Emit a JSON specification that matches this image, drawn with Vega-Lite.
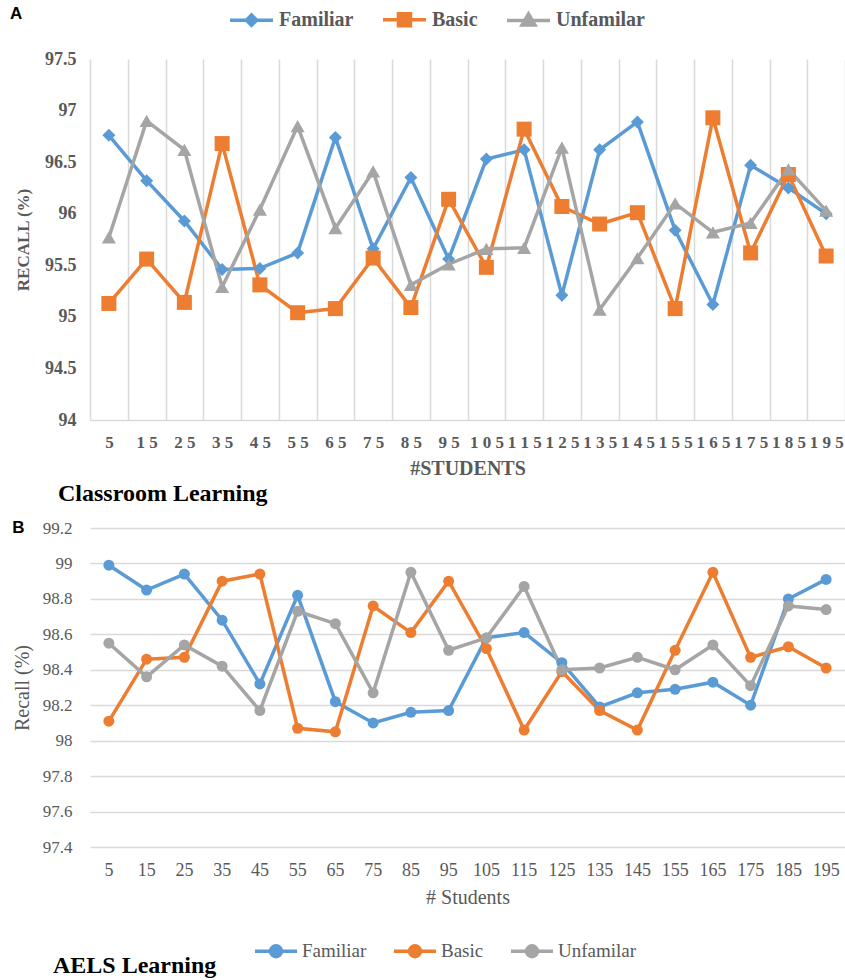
{
  "$schema": "https://vega.github.io/schema/vega-lite/v6.json",
  "padding": {"left": 10, "top": -4, "right": 0, "bottom": 0},
  "spacing": 13,
  "config": {"view": {"stroke": null}},
  "title": {"text": "AELS Learning", "orient": "bottom", "anchor": "start", "frame": "bounds", "font": "Liberation Serif", "fontSize": 24, "fontWeight": "bold", "color": "#000000", "dx": 43, "offset": 0, "dy": -10},
  "resolve": {"scale": {"color": "independent"}, "legend": {"color": "independent"}},
  "datasets": {
    "a": [
      {"n": 5, "s": "Familiar", "v": 96.76}, {"n": 15, "s": "Familiar", "v": 96.32}, {"n": 25, "s": "Familiar", "v": 95.93}, {"n": 35, "s": "Familiar", "v": 95.46}, {"n": 45, "s": "Familiar", "v": 95.47},
      {"n": 55, "s": "Familiar", "v": 95.62}, {"n": 65, "s": "Familiar", "v": 96.74}, {"n": 75, "s": "Familiar", "v": 95.66}, {"n": 85, "s": "Familiar", "v": 96.35}, {"n": 95, "s": "Familiar", "v": 95.56},
      {"n": 105, "s": "Familiar", "v": 96.53}, {"n": 115, "s": "Familiar", "v": 96.62}, {"n": 125, "s": "Familiar", "v": 95.21}, {"n": 135, "s": "Familiar", "v": 96.62}, {"n": 145, "s": "Familiar", "v": 96.89},
      {"n": 155, "s": "Familiar", "v": 95.84}, {"n": 165, "s": "Familiar", "v": 95.12}, {"n": 175, "s": "Familiar", "v": 96.47}, {"n": 185, "s": "Familiar", "v": 96.25}, {"n": 195, "s": "Familiar", "v": 96.0},
      {"n": 5, "s": "Basic", "v": 95.13}, {"n": 15, "s": "Basic", "v": 95.56}, {"n": 25, "s": "Basic", "v": 95.14}, {"n": 35, "s": "Basic", "v": 96.68}, {"n": 45, "s": "Basic", "v": 95.31},
      {"n": 55, "s": "Basic", "v": 95.04}, {"n": 65, "s": "Basic", "v": 95.08}, {"n": 75, "s": "Basic", "v": 95.57}, {"n": 85, "s": "Basic", "v": 95.09}, {"n": 95, "s": "Basic", "v": 96.14},
      {"n": 105, "s": "Basic", "v": 95.48}, {"n": 115, "s": "Basic", "v": 96.82}, {"n": 125, "s": "Basic", "v": 96.07}, {"n": 135, "s": "Basic", "v": 95.9}, {"n": 145, "s": "Basic", "v": 96.01},
      {"n": 155, "s": "Basic", "v": 95.08}, {"n": 165, "s": "Basic", "v": 96.93}, {"n": 175, "s": "Basic", "v": 95.62}, {"n": 185, "s": "Basic", "v": 96.38}, {"n": 195, "s": "Basic", "v": 95.59},
      {"n": 5, "s": "Unfamilar", "v": 95.77}, {"n": 15, "s": "Unfamilar", "v": 96.9}, {"n": 25, "s": "Unfamilar", "v": 96.62}, {"n": 35, "s": "Unfamilar", "v": 95.29}, {"n": 45, "s": "Unfamilar", "v": 96.04},
      {"n": 55, "s": "Unfamilar", "v": 96.85}, {"n": 65, "s": "Unfamilar", "v": 95.86}, {"n": 75, "s": "Unfamilar", "v": 96.41}, {"n": 85, "s": "Unfamilar", "v": 95.31}, {"n": 95, "s": "Unfamilar", "v": 95.51},
      {"n": 105, "s": "Unfamilar", "v": 95.66}, {"n": 115, "s": "Unfamilar", "v": 95.67}, {"n": 125, "s": "Unfamilar", "v": 96.64}, {"n": 135, "s": "Unfamilar", "v": 95.07}, {"n": 145, "s": "Unfamilar", "v": 95.57},
      {"n": 155, "s": "Unfamilar", "v": 96.1}, {"n": 165, "s": "Unfamilar", "v": 95.82}, {"n": 175, "s": "Unfamilar", "v": 95.91}, {"n": 185, "s": "Unfamilar", "v": 96.43}, {"n": 195, "s": "Unfamilar", "v": 96.03}
    ],
    "b": [
      {"n": 5, "s": "Familiar", "v": 98.99}, {"n": 15, "s": "Familiar", "v": 98.85}, {"n": 25, "s": "Familiar", "v": 98.94}, {"n": 35, "s": "Familiar", "v": 98.68}, {"n": 45, "s": "Familiar", "v": 98.32},
      {"n": 55, "s": "Familiar", "v": 98.82}, {"n": 65, "s": "Familiar", "v": 98.22}, {"n": 75, "s": "Familiar", "v": 98.1}, {"n": 85, "s": "Familiar", "v": 98.16}, {"n": 95, "s": "Familiar", "v": 98.17},
      {"n": 105, "s": "Familiar", "v": 98.58}, {"n": 115, "s": "Familiar", "v": 98.61}, {"n": 125, "s": "Familiar", "v": 98.44}, {"n": 135, "s": "Familiar", "v": 98.19}, {"n": 145, "s": "Familiar", "v": 98.27},
      {"n": 155, "s": "Familiar", "v": 98.29}, {"n": 165, "s": "Familiar", "v": 98.33}, {"n": 175, "s": "Familiar", "v": 98.2}, {"n": 185, "s": "Familiar", "v": 98.8}, {"n": 195, "s": "Familiar", "v": 98.91},
      {"n": 5, "s": "Basic", "v": 98.11}, {"n": 15, "s": "Basic", "v": 98.46}, {"n": 25, "s": "Basic", "v": 98.47}, {"n": 35, "s": "Basic", "v": 98.9}, {"n": 45, "s": "Basic", "v": 98.94},
      {"n": 55, "s": "Basic", "v": 98.07}, {"n": 65, "s": "Basic", "v": 98.05}, {"n": 75, "s": "Basic", "v": 98.76}, {"n": 85, "s": "Basic", "v": 98.61}, {"n": 95, "s": "Basic", "v": 98.9},
      {"n": 105, "s": "Basic", "v": 98.52}, {"n": 115, "s": "Basic", "v": 98.06}, {"n": 125, "s": "Basic", "v": 98.39}, {"n": 135, "s": "Basic", "v": 98.17}, {"n": 145, "s": "Basic", "v": 98.06},
      {"n": 155, "s": "Basic", "v": 98.51}, {"n": 165, "s": "Basic", "v": 98.95}, {"n": 175, "s": "Basic", "v": 98.47}, {"n": 185, "s": "Basic", "v": 98.53}, {"n": 195, "s": "Basic", "v": 98.41},
      {"n": 5, "s": "Unfamilar", "v": 98.55}, {"n": 15, "s": "Unfamilar", "v": 98.36}, {"n": 25, "s": "Unfamilar", "v": 98.54}, {"n": 35, "s": "Unfamilar", "v": 98.42}, {"n": 45, "s": "Unfamilar", "v": 98.17},
      {"n": 55, "s": "Unfamilar", "v": 98.73}, {"n": 65, "s": "Unfamilar", "v": 98.66}, {"n": 75, "s": "Unfamilar", "v": 98.27}, {"n": 85, "s": "Unfamilar", "v": 98.95}, {"n": 95, "s": "Unfamilar", "v": 98.51},
      {"n": 105, "s": "Unfamilar", "v": 98.58}, {"n": 115, "s": "Unfamilar", "v": 98.87}, {"n": 125, "s": "Unfamilar", "v": 98.4}, {"n": 135, "s": "Unfamilar", "v": 98.41}, {"n": 145, "s": "Unfamilar", "v": 98.47},
      {"n": 155, "s": "Unfamilar", "v": 98.4}, {"n": 165, "s": "Unfamilar", "v": 98.54}, {"n": 175, "s": "Unfamilar", "v": 98.31}, {"n": 185, "s": "Unfamilar", "v": 98.76}, {"n": 195, "s": "Unfamilar", "v": 98.74}
    ]
  },
  "vconcat": [
    {
      "width": 755,
      "height": 361,
      "data": {"name": "a"},
      "title": {"text": "Classroom Learning", "orient": "bottom", "anchor": "start", "frame": "bounds", "font": "Liberation Serif", "fontSize": 24, "fontWeight": "bold", "color": "#000000", "dx": 48, "offset": 4},
      "encoding": {
        "x": {
          "field": "n", "type": "ordinal",
          "scale": {"type": "band", "paddingInner": 0, "paddingOuter": 0},
          "axis": {
            "title": "#STUDENTS", "labelAngle": 0, "labelOverlap": false,
            "labelExpr": "join(split(datum.label, ''), ' ')",
            "tickBand": "extent", "ticks": false, "grid": true, "gridColor": "#d9d9d9", "gridWidth": 1.5,
            "domainColor": "#d9d9d9", "domainWidth": 1.5,
            "labelFont": "Liberation Serif", "labelFontWeight": "bold", "labelFontSize": 17, "labelColor": "#595959", "labelPadding": 14,
            "titleFont": "Liberation Serif", "titleFontWeight": "bold", "titleFontSize": 20, "titleColor": "#595959", "titlePadding": 8
          }
        },
        "y": {
          "field": "v", "type": "quantitative",
          "scale": {"domain": [94, 97.5], "zero": false, "nice": false},
          "axis": {
            "title": "RECALL (%)", "values": [94, 94.5, 95, 95.5, 96, 96.5, 97, 97.5], "format": ".1~f",
            "grid": false, "domain": false, "ticks": false,
            "labelFont": "Liberation Serif", "labelFontWeight": "bold", "labelFontSize": 18, "labelColor": "#595959", "labelPadding": 14,
            "titleFont": "Liberation Serif", "titleFontWeight": "bold", "titleFontSize": 17, "titleColor": "#595959", "titlePadding": 12
          }
        },
        "color": {
          "field": "s", "type": "nominal",
          "scale": {"domain": ["Familiar", "Basic", "Unfamilar"], "range": ["#5B9BD5", "#ED7D31", "#A5A5A5"]},
          "legend": {
            "orient": "none", "legendX": -80, "legendY": -63, "direction": "horizontal",
            "title": "A", "titleOrient": "left", "titleAnchor": "middle", "titleBaseline": "middle", "titleFont": "Liberation Sans", "titleFontSize": 17, "titleFontWeight": "bold", "titleColor": "#000000", "titlePadding": 205,
            "labelFont": "Liberation Serif", "labelFontWeight": "bold", "labelFontSize": 20, "labelColor": "#595959", "labelOffset": 4,
            "symbolSize": 1849, "columnPadding": 22,
            "encode": {
              "symbols": {
                "update": {
                  "shape": {"signal": "datum.value === 'Familiar' ? 'M-1,0H1M0,-0.24L0.24,0L0,0.24L-0.24,0Z' : datum.value === 'Basic' ? 'M-1,0H1M-0.28,-0.28H0.28V0.28H-0.28Z' : 'M-1,0H1M0,-0.3L0.3,0.22H-0.3Z'"},
                  "fill": {"signal": "datum.value === 'Familiar' ? '#5B9BD5' : datum.value === 'Basic' ? '#ED7D31' : '#A5A5A5'"},
                  "stroke": {"signal": "datum.value === 'Familiar' ? '#5B9BD5' : datum.value === 'Basic' ? '#ED7D31' : '#A5A5A5'"},
                  "strokeWidth": {"value": 3.5},
                  "opacity": {"value": 1}
                }
              }
            }
          }
        }
      },
      "layer": [
        {"mark": {"type": "line", "strokeWidth": 3.5}},
        {
          "transform": [{"filter": "datum.s === 'Familiar'"}],
          "mark": {"type": "point", "filled": true, "opacity": 1, "shape": "diamond", "size": 169}
        },
        {
          "transform": [{"filter": "datum.s === 'Basic'"}],
          "mark": {"type": "point", "filled": true, "opacity": 1, "shape": "square", "size": 225}
        },
        {
          "transform": [{"filter": "datum.s === 'Unfamilar'"}],
          "mark": {"type": "point", "filled": true, "opacity": 1, "shape": "triangle-up", "size": 200}
        }
      ]
    },
    {
      "width": 755,
      "height": 319,
      "data": {"name": "b"},
      "title": {"text": "B", "orient": "top", "anchor": "start", "frame": "bounds", "font": "Liberation Sans", "fontSize": 17, "fontWeight": "bold", "color": "#000000", "dy": 18, "offset": 0},
      "encoding": {
        "x": {
          "field": "n", "type": "ordinal",
          "scale": {"type": "band", "paddingInner": 0, "paddingOuter": 0},
          "axis": {
            "title": "# Students", "labelAngle": 0, "labelOverlap": false,
            "ticks": false, "grid": false, "domain": false,
            "labelFont": "Liberation Serif", "labelFontSize": 18, "labelColor": "#595959", "labelPadding": 14,
            "titleFont": "Liberation Serif", "titleFontWeight": "normal", "titleFontSize": 20, "titleColor": "#595959", "titlePadding": 8
          }
        },
        "y": {
          "field": "v", "type": "quantitative",
          "scale": {"domain": [97.4, 99.2], "zero": false, "nice": false},
          "axis": {
            "title": "Recall (%)", "values": [97.4, 97.6, 97.8, 98, 98.2, 98.4, 98.6, 98.8, 99, 99.2], "format": ".1~f",
            "grid": true, "gridColor": "#d9d9d9", "gridWidth": 1.5, "domain": false, "ticks": false,
            "labelFont": "Liberation Serif", "labelFontSize": 17, "labelColor": "#595959", "labelPadding": 18,
            "titleFont": "Liberation Serif", "titleFontWeight": "normal", "titleFontSize": 20, "titleColor": "#595959", "titlePadding": 10
          }
        },
        "color": {
          "field": "s", "type": "nominal",
          "scale": {"domain": ["Familiar", "Basic", "Unfamilar"], "range": ["#5B9BD5", "#ED7D31", "#A5A5A5"]},
          "legend": {
            "orient": "none", "legendX": 163, "legendY": 400, "direction": "horizontal", "title": null,
            "labelFont": "Liberation Serif", "labelFontSize": 19, "labelColor": "#595959", "labelOffset": 3,
            "symbolSize": 1764, "columnPadding": 20,
            "encode": {
              "symbols": {
                "update": {
                  "shape": {"value": "M-1,0H1M0.26,0A0.26,0.26 0 1,1 -0.26,0A0.26,0.26 0 1,1 0.26,0Z"},
                  "fill": {"signal": "datum.value === 'Familiar' ? '#5B9BD5' : datum.value === 'Basic' ? '#ED7D31' : '#A5A5A5'"},
                  "stroke": {"signal": "datum.value === 'Familiar' ? '#5B9BD5' : datum.value === 'Basic' ? '#ED7D31' : '#A5A5A5'"},
                  "strokeWidth": {"value": 3.5},
                  "opacity": {"value": 1}
                }
              }
            }
          }
        }
      },
      "layer": [
        {"mark": {"type": "line", "strokeWidth": 3.5}},
        {"mark": {"type": "point", "filled": true, "opacity": 1, "shape": "circle", "size": 121}}
      ]
    }
  ]
}
